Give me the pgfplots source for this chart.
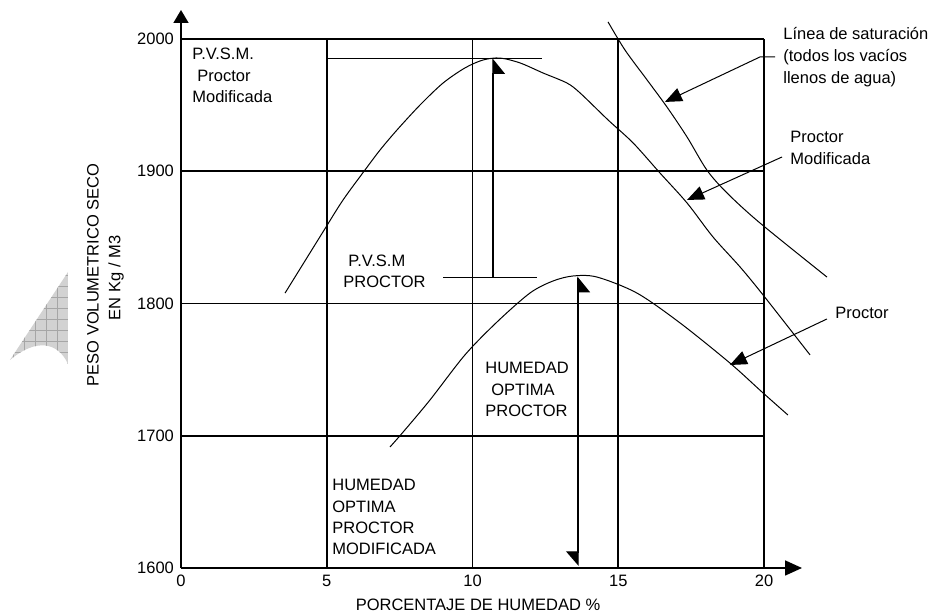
\documentclass[border=0pt]{standalone}
\usepackage{fontspec}
\setmainfont{Liberation Sans}
\usepackage{pgfplots}
\pgfplotsset{compat=1.18}
\usetikzlibrary{arrows.meta}

\newcommand\txt{\fontsize{8.25}{10}\selectfont}

\begin{document}
\begin{tikzpicture}[font=\txt]
% page frame (units of 0.5pt, origin at the lower left plot corner)
\path[use as bounding box] (-90.5pt,-22.5pt) rectangle (380pt,284pt);

\begin{axis}[
  at={(0,0)}, anchor=south west,
  scale only axis, width=291.5pt, height=264.5pt,
  xmin=0, xmax=20, ymin=1600, ymax=2000,
  axis lines=left,
  x axis line style={line width=0.85pt, -{Triangle[length=8.5pt,width=7.5pt]}, shorten >=-19pt},
  y axis line style={line width=0.85pt, -{Triangle[length=6.5pt,width=7.5pt]}, shorten >=-14.5pt},
  xtick={0,5,10,15,20}, ytick={1600,1700,1800,1900,2000},
  major tick length=0pt,
  grid=major, grid style={black, line width=0.8pt},
  clip=false,
  tick label style={font=\txt},
  /pgf/number format/assume math mode=true,
  /pgf/number format/set thousands separator={},
]

% Proctor modificada
\addplot[black, line width=0.5pt, smooth, tension=0.5] coordinates {
  (3.57,1807.9) (4.87,1854.1) (5.56,1878.3) (6.31,1900.9) (6.83,1916.1)
  (7.41,1931.2) (8.20,1950.1) (8.99,1966.7) (9.74,1978.1) (10.36,1984.1)
  (10.94,1985.6) (11.63,1981.9) (12.42,1974.3) (13.24,1966.7) (13.69,1959.2)
  (14.65,1938.8) (15.51,1921.4) (16.43,1898.7) (17.36,1876.0) (18.25,1850.3)
  (19.18,1827.6) (19.97,1806.4) (21.58,1761.1)
};

% Proctor
\addplot[black, line width=0.5pt, smooth, tension=0.5] coordinates {
  (7.17,1691.5) (7.62,1702.8) (8.54,1727.0) (9.74,1761.1) (10.84,1786.0)
  (11.97,1807.9) (12.76,1817.0) (13.45,1820.8) (14.27,1820.0) (15.64,1807.9)
  (17.12,1785.3) (18.83,1755.0) (19.93,1733.1) (20.82,1715.7)
};

% Linea de saturacion
\addplot[black, line width=0.5pt, smooth, tension=0.5] coordinates {
  (14.65,2012.9) (15.23,1991.7) (15.99,1969.0) (16.67,1948.6) (17.36,1925.9)
  (18.04,1900.9) (18.73,1883.6) (19.86,1860.9) (22.16,1820.0)
};

% P.V.S.M. levels
\draw[line width=0.5pt] (5.01,1985.6) -- (12.38,1985.6);
\draw[line width=0.5pt] (8.99,1819.3) -- (12.21,1819.3);

% optimum markers (half heads on the right-hand side)
\draw[line width=0.65pt, -{Triangle[length=7.5pt,width=12pt,right]}]
  (10.70,1819.3) -- (10.70,1985.6);
\draw[line width=0.65pt, -{Triangle[length=7pt,width=12pt,right]}]
  (13.62,1819.3) -- (13.62,1601.5);
\draw[line width=0.65pt, -{Triangle[length=7.5pt,width=12pt,right]}]
  (13.62,1700) -- (13.62,1820.4);

% callouts
\draw[line width=0.5pt, -{Triangle[length=8.5pt,width=7pt]}]
  (20.38,1986.4) -- (19.86,1986.4) -- (16.60,1952.4);
\draw[line width=0.5pt, -{Triangle[length=8.5pt,width=7pt]}]
  (20.62,1910.8) -- (17.36,1878.3);
\draw[line width=0.5pt, -{Triangle[length=8.5pt,width=7pt]}]
  (22.16,1788.3) -- (18.83,1753.5);
\end{axis}

\begin{scope}[shift={(-90.5pt,284pt)}, x=0.5pt, y=-0.5pt,
  every node/.style={inner sep=0pt, font=\txt}]
  % shaded corner mark
  \def\markshape{(10,360) -- (68,272) -- (68,364)
    .. controls (58,342) and (36,338) .. (10,360) -- cycle}
  \fill[gray!35] \markshape;
  \begin{scope}
    \clip \markshape;
    \foreach \k in {2,13,...,68} \draw[gray!70, line width=0.3pt] (\k,260) -- (\k,370);
    \foreach \k in {264,275,...,370} \draw[gray!70, line width=0.3pt] (0,\k) -- (70,\k);
  \end{scope}

  % axis titles
  \node[rotate=90] at (93,275) {PESO VOLUMETRICO SECO};
  \node[rotate=90] at (116,278) {EN Kg / M3};
  \node[anchor=base] at (478,611) {PORCENTAJE DE HUMEDAD \%};

  % labels inside the chart
  \node[anchor=base west] at (192,60)  {P.V.S.M.};
  \node[anchor=base west] at (197,82)  {Proctor};
  \node[anchor=base west] at (192,103) {Modificada};

  \node[anchor=base west] at (348,267) {P.V.S.M};
  \node[anchor=base west] at (343,288) {PROCTOR};

  \node[anchor=base west] at (485,374) {HUMEDAD};
  \node[anchor=base west] at (491,396) {OPTIMA};
  \node[anchor=base west] at (485,417) {PROCTOR};

  \node[anchor=base west] at (332,491) {HUMEDAD};
  \node[anchor=base west] at (332,513) {OPTIMA};
  \node[anchor=base west] at (332,534) {PROCTOR};
  \node[anchor=base west] at (332,555) {MODIFICADA};

  % callout texts
  \node[anchor=base west] at (783,40) {Línea de saturación};
  \node[anchor=base west] at (783,62) {(todos los vacíos};
  \node[anchor=base west] at (783,84) {llenos de agua)};
  \node[anchor=base west] at (790,143) {Proctor};
  \node[anchor=base west] at (790,165) {Modificada};
  \node[anchor=base west] at (835,319) {Proctor};
\end{scope}
\end{tikzpicture}
\end{document}
